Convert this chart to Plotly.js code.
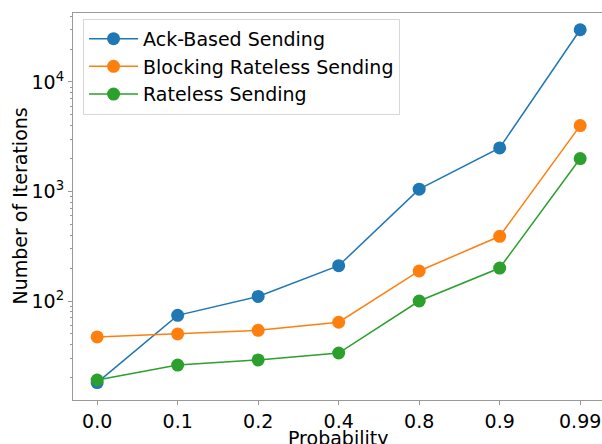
<!DOCTYPE html>
<html>
<head>
<meta charset="utf-8">
<script src="https://cdn.plot.ly/plotly-3.0.1.min.js"></script>
<style>html,body{margin:0;padding:0;background:#fff;overflow:hidden;}#chart{width:602px;height:444px;}</style>
</head>
<body>
<div id="chart"></div>
<script>
var categories = ["0.0", "0.1", "0.2", "0.4", "0.8", "0.9", "0.99"];
var ackBased = [18, 74, 110, 210, 1050, 2500, 30000];
var blockingRateless = [47, 50, 54, 64, 188, 390, 4000];
var rateless = [19, 26, 29, 33.5, 100, 200, 2000];
var seriesNames = ["Ack-Based Sending", "Blocking Rateless Sending", "Rateless Sending"];
var yTickVals = [100, 1000, 10000];
var yTickText = ["10<sup>2</sup>", "10<sup>3</sup>", "10<sup>4</sup>"];
var xTitle = "Probability";
var yTitle = "Number of Iterations";

var colors = ["#1f77b4", "#ff7f0e", "#2ca02c"];
var series = [ackBased, blockingRateless, rateless];
var traces = series.map(function (vals, i) {
  return {
    x: categories, y: vals, name: seriesNames[i], type: "scatter", mode: "lines+markers",
    line: {color: colors[i], width: 1.5},
    marker: {color: colors[i], size: 13}
  };
});

var font = {family: "DejaVu Sans, sans-serif", size: 19, color: "#000"};
var layout = {
  width: 602, height: 444,
  margin: {l: 73, r: 0, t: 13, b: 44},
  paper_bgcolor: "#fff", plot_bgcolor: "#fff",
  font: font,
  showlegend: true,
  legend: {
    x: 0.019, y: 0.985, xanchor: "left", yanchor: "top",
    bgcolor: "rgba(255,255,255,0.8)", bordercolor: "#d8d8d8", borderwidth: 1,
    font: {family: "DejaVu Sans, sans-serif", size: 19, color: "#000"},
    tracegroupgap: 0, itemwidth: 49
  },
  xaxis: {
    type: "category", range: [-0.3, 6.271],
    showline: true, linecolor: "#999", linewidth: 1, mirror: true,
    ticks: "outside", ticklen: 4, tickcolor: "#999",
    showgrid: false, zeroline: false,
    tickfont: font, automargin: false
  },
  yaxis: {
    type: "log", range: [1.096, 4.630],
    showline: true, linecolor: "#999", linewidth: 1, mirror: false,
    ticks: "outside", ticklen: 4, tickcolor: "#999",
    tickvals: yTickVals, ticktext: yTickText,
    minor: {ticks: "outside", ticklen: 2, tickcolor: "#999", showgrid: false, dtick: "D1"},
    showgrid: false, zeroline: false,
    tickfont: font, automargin: false
  },
  annotations: [
    {text: xTitle, xref: "paper", yref: "paper", x: 0.5, y: 0, xanchor: "center", yanchor: "top",
     yshift: -25, showarrow: false, font: font},
    {text: yTitle, xref: "paper", yref: "paper", x: 0, y: 0.5, xanchor: "center", yanchor: "middle",
     xshift: -54, textangle: -90, showarrow: false, font: font}
  ]
};
Plotly.newPlot("chart", traces, layout, {displayModeBar: false, staticPlot: true});
</script>
</body>
</html>
